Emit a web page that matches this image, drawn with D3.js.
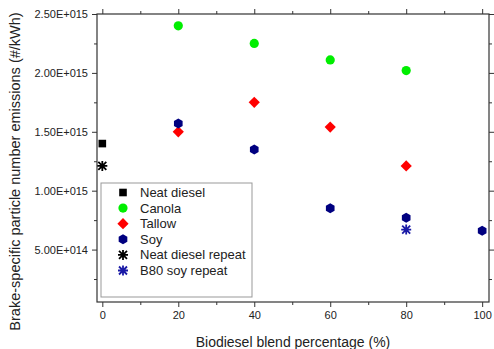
<!DOCTYPE html>
<html>
<head>
<meta charset="utf-8">
<script src="https://cdn.jsdelivr.net/npm/d3@7"></script>
<style>
  html, body { margin: 0; padding: 0; background: #fff; }
  svg { display: block; font-family: "Liberation Sans", Arial, sans-serif; }
</style>
</head>
<body>
<svg id="chart" width="494" height="349"></svg>
<script>
// Brake-specific particle number emissions by biodiesel blend
const blendTicks = [0, 20, 40, 60, 80, 100];
const blendMinor = [10, 30, 50, 70, 90];
const emissionTicks = [5e14, 1e15, 1.5e15, 2e15, 2.5e15];
const emissionMinor = [2.5e14, 7.5e14, 1.25e15, 1.75e15, 2.25e15];

const neatDieselX = [0];
const neatDieselY = [1.40e15];
const canolaX = [20, 40, 60, 80];
const canolaY = [2.40e15, 2.25e15, 2.11e15, 2.02e15];
const tallowX = [20, 40, 60, 80];
const tallowY = [1.50e15, 1.75e15, 1.54e15, 1.21e15];
const soyX = [20, 40, 60, 80, 100];
const soyY = [1.57e15, 1.35e15, 0.85e15, 0.77e15, 0.66e15];
const neatRepeatX = [0];
const neatRepeatY = [1.21e15];
const soyRepeatX = [80];
const soyRepeatY = [0.67e15];

const seriesNames = ["Neat diesel", "Canola", "Tallow", "Soy", "Neat diesel repeat", "B80 soy repeat"];
const seriesColors = ["#000000", "#00ee00", "#ff0000", "#000080", "#000000", "#1a1aa6"];
const seriesShapes = ["square", "circle", "diamond", "hexagon", "asterisk", "asterisk"];

const series = [
  { x: neatDieselX, y: neatDieselY },
  { x: canolaX, y: canolaY },
  { x: tallowX, y: tallowY },
  { x: soyX, y: soyY },
  { x: neatRepeatX, y: neatRepeatY },
  { x: soyRepeatX, y: soyRepeatY }
].map((s, i) => ({
  name: seriesNames[i], color: seriesColors[i], shape: seriesShapes[i],
  points: s.x.map((xv, j) => ({ x: xv, y: s.y[j] }))
}));

const svg = d3.select("#chart");
const plotLeft = 97, plotRight = 489, plotTop = 14, plotBottom = 302;
const x = d3.scaleLinear().domain([-1.4, 101.8]).range([plotLeft, plotRight]);
const y = d3.scaleLinear().domain([5.5e13, 2.5e15]).range([plotBottom, plotTop]);

const sci = v => {
  const e = Math.floor(Math.log10(v));
  const m = v / Math.pow(10, e);
  return m.toFixed(2) + "E+" + String(e).padStart(3, "0");
};

const axisColor = "#333";
const textColor = "#222";

function styleAxis(g) {
  g.select(".domain").remove();
  g.selectAll(".tick line").attr("stroke", axisColor).attr("stroke-width", 1);
  g.selectAll(".tick text").attr("fill", textColor)
    .style("font-size", "11px").style("font-family", "'Liberation Sans', Arial, sans-serif");
}

// Major and minor ticks on all four sides, pointing outward
svg.append("g").attr("transform", `translate(0,${plotBottom})`)
  .call(d3.axisBottom(x).tickValues(blendTicks).tickFormat(d3.format("d")).tickSize(5).tickPadding(4))
  .call(styleAxis);
svg.append("g").attr("transform", `translate(0,${plotBottom})`)
  .call(d3.axisBottom(x).tickValues(blendMinor).tickFormat("").tickSize(3))
  .call(styleAxis);
svg.append("g").attr("transform", `translate(0,${plotTop})`)
  .call(d3.axisTop(x).tickValues(blendTicks).tickFormat("").tickSize(5))
  .call(styleAxis);
svg.append("g").attr("transform", `translate(0,${plotTop})`)
  .call(d3.axisTop(x).tickValues(blendMinor).tickFormat("").tickSize(3))
  .call(styleAxis);

svg.append("g").attr("transform", `translate(${plotLeft},0)`)
  .call(d3.axisLeft(y).tickValues(emissionTicks).tickFormat(sci).tickSize(5).tickPadding(4))
  .call(styleAxis);
svg.append("g").attr("transform", `translate(${plotLeft},0)`)
  .call(d3.axisLeft(y).tickValues(emissionMinor).tickFormat("").tickSize(3))
  .call(styleAxis);
svg.append("g").attr("transform", `translate(${plotRight},0)`)
  .call(d3.axisRight(y).tickValues(emissionTicks).tickFormat("").tickSize(5))
  .call(styleAxis);
svg.append("g").attr("transform", `translate(${plotRight},0)`)
  .call(d3.axisRight(y).tickValues(emissionMinor).tickFormat("").tickSize(3))
  .call(styleAxis);

// Plot frame
svg.append("rect")
  .attr("x", plotLeft).attr("y", plotTop)
  .attr("width", plotRight - plotLeft).attr("height", plotBottom - plotTop)
  .attr("fill", "none").attr("stroke", axisColor).attr("stroke-width", 1.2);

// Marker drawing
const hexPath = r => {
  const pts = d3.range(6).map(k => {
    const a = Math.PI / 6 + k * Math.PI / 3;
    return [r * Math.cos(a), r * Math.sin(a)];
  });
  return "M" + pts.map(p => p.join(",")).join("L") + "Z";
};

function drawMarker(g, shape, color) {
  if (shape === "square") {
    g.append("rect").attr("x", -3.8).attr("y", -3.8).attr("width", 7.6).attr("height", 7.6).attr("fill", color);
  } else if (shape === "circle") {
    g.append("circle").attr("r", 4.6).attr("fill", color);
  } else if (shape === "diamond") {
    g.append("path").attr("d", "M0,-5.6L5.6,0L0,5.6L-5.6,0Z").attr("fill", color);
  } else if (shape === "hexagon") {
    g.append("path").attr("d", hexPath(5)).attr("fill", color);
  } else if (shape === "asterisk") {
    const r = 5;
    const d = r * 0.8;
    g.append("path")
      .attr("d", `M${-d},${-d}L${d},${d}M${-d},${d}L${d},${-d}M0,${-r}L0,${r}M${-r},0L${r},0`)
      .attr("stroke", color).attr("stroke-width", 1.8).attr("fill", "none");
  }
}

// Legend
const legendX = 101, legendY = 183, legendW = 151, legendH = 114;
svg.append("rect")
  .attr("x", legendX).attr("y", legendY)
  .attr("width", legendW).attr("height", legendH)
  .attr("fill", "#fff").attr("stroke", "#999").attr("stroke-width", 1);

const legend = svg.append("g");
series.forEach((s, i) => {
  const row = legend.append("g").attr("transform", `translate(${legendX}, ${legendY + 9.5 + i * 15.6})`);
  drawMarker(row.append("g").attr("transform", "translate(22,0)"), s.shape, s.color);
  row.append("text").attr("x", 39).attr("y", 0).attr("dy", "0.35em")
    .attr("fill", textColor).style("font-size", "13px").text(s.name);
});

// Data points
series.forEach(s => {
  svg.append("g").selectAll("g").data(s.points).join("g")
    .attr("transform", d => `translate(${x(d.x)},${y(d.y)})`)
    .each(function () { drawMarker(d3.select(this), s.shape, s.color); });
});

// Axis titles
svg.append("text")
  .attr("x", (plotLeft + plotRight) / 2).attr("y", 342).attr("dy", "0.35em")
  .attr("text-anchor", "middle").attr("fill", textColor).style("font-size", "14px")
  .text("Biodiesel blend percentage (%)");

svg.append("text")
  .attr("transform", `translate(15, ${(10 + 333) / 2}) rotate(-90)`)
  .attr("dy", "0.35em")
  .attr("text-anchor", "middle").attr("fill", textColor).style("font-size", "14.5px")
  .text("Brake-specific particle number emissions (#/kWh)");
</script>
</body>
</html>
